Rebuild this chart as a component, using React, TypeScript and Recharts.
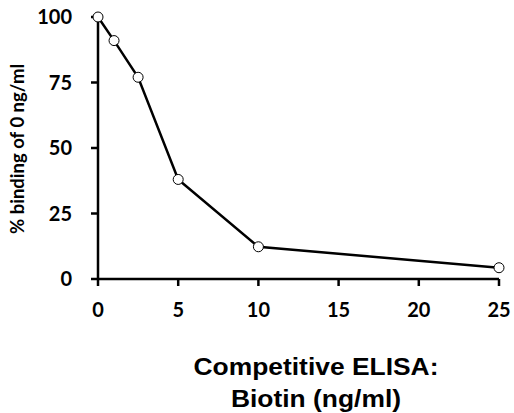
import React from "react";
import { LineChart, Line, XAxis, YAxis, Label } from "recharts";

const concentrations = [0, 1, 2.5, 5, 10, 25];
const bindingPercent = [100, 91, 77, 38, 12.3, 4.3];
const xTicks = [0, 5, 10, 15, 20, 25];
const yTicks = [0, 25, 50, 75, 100];

const data = concentrations.map((c, i) => ({ x: c, y: bindingPercent[i] }));

const tickFont = { fontFamily: "Lato, 'Open Sans', sans-serif", fontSize: 20, fontWeight: 700, fill: "#000" };

const XTitle = () => {
  const cx = 316;
  const y1 = 375;
  return (
    <g transform={`translate(${cx},0) scale(1.1,1) translate(${-cx},0)`}>
      <text
        x={cx}
        y={y1}
        textAnchor="middle"
        style={{ fontFamily: "'Liberation Sans', Arial, sans-serif", fontSize: 24, fontWeight: 700, fill: "#000" }}
      >
        <tspan x={cx} dy={0}>Competitive ELISA:</tspan>
        <tspan x={cx} dy={32}>Biotin (ng/ml)</tspan>
      </text>
    </g>
  );
};

const YTitle = () => {
  const cx = 17;
  const cy = 149;
  return (
    <text
      x={cx}
      y={cy}
      textAnchor="middle"
      dominantBaseline="central"
      transform={`rotate(-90, ${cx}, ${cy})`}
      style={{ fontFamily: "Lato, 'Open Sans', sans-serif", fontSize: 18.5, fontWeight: 700, fill: "#000" }}
    >
      % binding of 0 ng/ml
    </text>
  );
};

export default function App() {
  return (
    <div style={{ position: "absolute", left: 0, top: 0, width: 514, height: 413, background: "#fff" }}>
      <LineChart width={514} height={413} data={data} margin={{ top: 17, right: 15, bottom: 0, left: 0 }}>
        <XAxis
          dataKey="x"
          type="number"
          domain={[0, 25]}
          ticks={xTicks}
          height={134}
          axisLine={{ stroke: "#000", strokeWidth: 2.5 }}
          tickLine={{ stroke: "#000", strokeWidth: 2.5 }}
          tickSize={7}
          tickMargin={17}
          tick={tickFont}
          interval={0}
        >
          <Label content={<XTitle />} />
        </XAxis>
        <YAxis
          dataKey="y"
          type="number"
          domain={[0, 100]}
          ticks={yTicks}
          width={98}
          axisLine={{ stroke: "#000", strokeWidth: 2.5 }}
          tickLine={{ stroke: "#000", strokeWidth: 2.5 }}
          tickSize={7}
          tickMargin={19}
          tick={tickFont}
          interval={0}
        >
          <Label content={<YTitle />} />
        </YAxis>
        <Line
          type="linear"
          dataKey="y"
          stroke="#000"
          strokeWidth={2.5}
          dot={{ r: 5, fill: "#fff", stroke: "#000", strokeWidth: 1 }}
          isAnimationActive={false}
        />
      </LineChart>
    </div>
  );
}
